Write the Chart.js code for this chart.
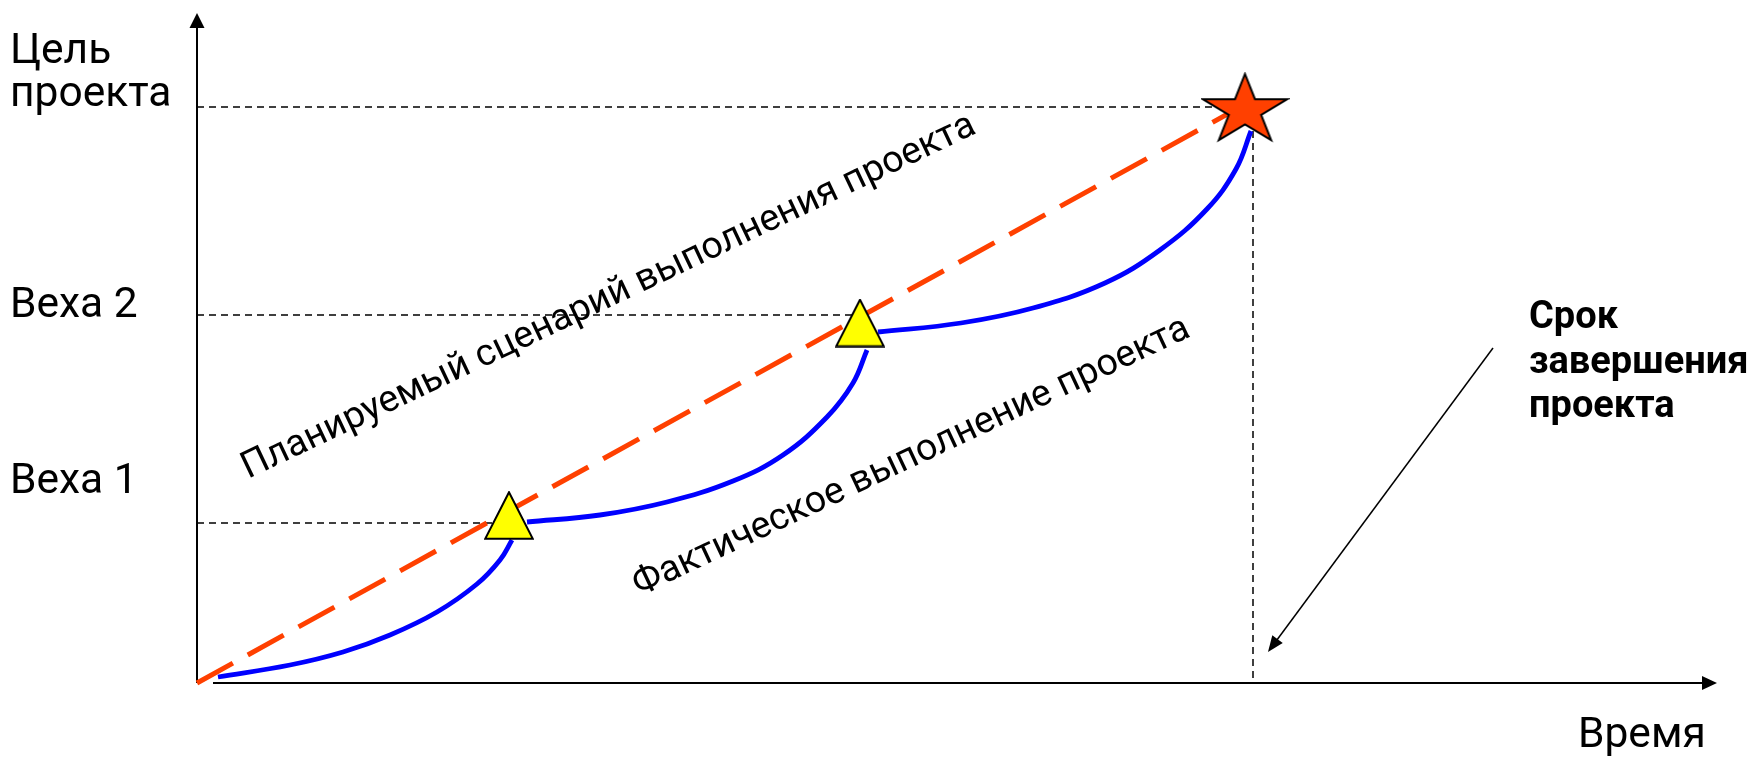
<!DOCTYPE html>
<html>
<head>
<meta charset="utf-8">
<script src="https://cdn.jsdelivr.net/npm/chart.js@4/dist/chart.umd.min.js"></script>
<style>
  html, body { margin: 0; padding: 0; background: #ffffff; }
  #wrap { width: 1749px; height: 757px; }
</style>
</head>
<body>
<div id="wrap"><canvas id="c" width="1749" height="757"></canvas></div>
<script>
// ---- data (arbitrary time / progress units) ----
const plannedX = [0, 106.5];
const plannedY = [0, 58.8];

const actual1X = [2.1, 9.3, 14.6, 19.3, 24.0, 28.0, 30.3, 31.5];
const actual1Y = [0.6, 1.8, 3.1, 4.8, 7.1, 9.9, 12.3, 14.3];
const actual2X = [33.0, 40.3, 47.0, 53.6, 58.6, 63.0, 65.6, 67.0];
const actual2Y = [16.1, 16.8, 18.1, 20.2, 22.8, 26.6, 30.0, 33.3];
const actual3X = [68.1, 76.4, 83.6, 90.8, 96.3, 101.0, 103.9, 105.4];
const actual3Y = [35.1, 36.0, 37.5, 40.0, 43.3, 47.4, 51.4, 55.2];

const milestoneLabels = ['Веха 1', 'Веха 2'];
const milestoneValues = [16.0, 36.8];
const milestoneMarkX = [31.2, 66.3];
const milestoneMarkY = [16.75, 36.0];

const goalLabel = ['Цель', 'проекта'];
const goalValue = 57.6;
const goalMarkX = [104.8];
const goalMarkY = [57.55];
const deadlineX = 105.6;

const xAxisTitle = 'Время';
const deadlineNote = ['Срок', 'завершения', 'проекта'];
const plannedNote = 'Планируемый сценарий выполнения проекта';
const actualNote = 'Фактическое выполнение проекта';

const pts = (xs, ys) => xs.map((x, i) => ({ x: x, y: ys[i] }));

// ---- marker images ----
function triangleImg(w, h, fill) {
  const c = document.createElement('canvas');
  c.width = w; c.height = h;
  const g = c.getContext('2d');
  const b = 1.2;
  g.beginPath();
  g.moveTo(w / 2, b);
  g.lineTo(w - b, h - b);
  g.lineTo(b, h - b);
  g.closePath();
  g.fillStyle = fill; g.fill();
  g.lineWidth = 2; g.strokeStyle = '#000'; g.lineJoin = 'miter'; g.stroke();
  return c;
}
function starImg(rx, ry, fill) {
  const bw = 2;
  const w = Math.ceil(2 * 0.951 * rx + bw * 2), h = Math.ceil(1.809 * ry + bw * 2);
  const c = document.createElement('canvas');
  c.width = w; c.height = h;
  const g = c.getContext('2d');
  const cx = w / 2, cy = bw + ry;
  g.beginPath();
  for (let i = 0; i < 10; i++) {
    const a = -Math.PI / 2 + i * Math.PI / 5;
    const r = (i % 2 === 0) ? 1 : 0.382;
    const px = cx + Math.cos(a) * rx * r, py = cy + Math.sin(a) * ry * r;
    if (i === 0) g.moveTo(px, py); else g.lineTo(px, py);
  }
  g.closePath();
  g.fillStyle = fill; g.fill();
  g.lineWidth = 2; g.strokeStyle = '#000'; g.lineJoin = 'miter'; g.stroke();
  return c;
}
const triImg = triangleImg(50, 49, '#FFFF00');
const stImg = starImg(44.5, 36.5, '#FF4000');

const ORANGE = '#FF4000';
const BLUE = '#0000FF';
const dashStyle = { borderColor: '#000', borderWidth: 1.5, borderDash: [7, 5], pointRadius: 0, fill: false, tension: 0 };
const blueStyle = { borderColor: BLUE, borderWidth: 4.8, pointRadius: 0, tension: 0.4, fill: false, borderCapStyle: 'butt' };

const datasets = [
  { label: 'goal', data: pts(goalMarkX, goalMarkY), showLine: false, pointStyle: stImg, pointRadius: 40, borderWidth: 0 },
  { label: 'milestones', data: pts(milestoneMarkX, milestoneMarkY), showLine: false, pointStyle: triImg, pointRadius: 25, borderWidth: 0 },
  Object.assign({ label: 'actual1', data: pts(actual1X, actual1Y) }, blueStyle),
  Object.assign({ label: 'actual2', data: pts(actual2X, actual2Y) }, blueStyle),
  Object.assign({ label: 'actual3', data: pts(actual3X, actual3Y) }, blueStyle),
  { label: 'planned', data: pts(plannedX, plannedY), borderColor: ORANGE, borderWidth: 5, borderDash: [41, 17], borderCapStyle: 'butt', pointRadius: 0, fill: false, tension: 0 },
  Object.assign({ label: 'goalH', data: [{ x: 0, y: goalValue }, { x: goalMarkX[0], y: goalValue }] }, dashStyle),
  Object.assign({ label: 'deadline', data: [{ x: deadlineX, y: goalValue }, { x: deadlineX, y: 0 }] }, dashStyle),
  Object.assign({ label: 'm1', data: [{ x: 0, y: milestoneValues[0] }, { x: milestoneMarkX[0], y: milestoneValues[0] }] }, dashStyle),
  Object.assign({ label: 'm2', data: [{ x: 0, y: milestoneValues[1] }, { x: milestoneMarkX[1], y: milestoneValues[1] }] }, dashStyle)
];

function arrowHead(g, x1, y1, x2, y2, len, half) {
  const a = Math.atan2(y2 - y1, x2 - x1);
  g.beginPath();
  g.moveTo(x2, y2);
  g.lineTo(x2 - len * Math.cos(a) + half * Math.sin(a), y2 - len * Math.sin(a) - half * Math.cos(a));
  g.lineTo(x2 - len * Math.cos(a) - half * Math.sin(a), y2 - len * Math.sin(a) + half * Math.cos(a));
  g.closePath();
  g.fill();
}

const decor = {
  id: 'decor',
  beforeDatasetsDraw(chart) {
    const g = chart.ctx, xs = chart.scales.x, ys = chart.scales.y;
    const x0 = xs.getPixelForValue(0), y0 = ys.getPixelForValue(0);
    const top = chart.chartArea.top, right = chart.chartArea.right;
    g.save();
    g.strokeStyle = '#000'; g.fillStyle = '#000'; g.lineWidth = 2;
    // y axis
    g.beginPath(); g.moveTo(x0, y0); g.lineTo(x0, top + 12); g.stroke();
    arrowHead(g, x0, y0, x0, top, 15, 7.5);
    // x axis
    const xs0 = xs.getPixelForValue(1.6);
    g.beginPath(); g.moveTo(xs0, y0); g.lineTo(right - 12, y0); g.stroke();
    arrowHead(g, xs0, y0, right, y0, 15, 7);
    g.restore();
  },
  afterDatasetsDraw(chart) {
    const g = chart.ctx, xs = chart.scales.x, ys = chart.scales.y;
    const X = v => xs.getPixelForValue(v), Y = v => ys.getPixelForValue(v);
    g.save();
    g.fillStyle = '#000';
    g.textBaseline = 'alphabetic';
    g.textAlign = 'left';
    // y side labels
    g.font = '42.5px Roboto';
    g.fillText(goalLabel[0], 10, Y(62.0));
    g.fillText(goalLabel[1], 10, Y(57.7));
    g.fillText(milestoneLabels[1], 10, Y(36.6));
    g.fillText(milestoneLabels[0], 10, Y(19.0));
    // x title
    g.fillText(xAxisTitle, X(138.1), Y(-6.4));
    // deadline note
    g.font = 'bold 38px Roboto';
    g.fillText(deadlineNote[0], X(133.2), Y(35.5));
    g.fillText(deadlineNote[1], X(133.2), Y(31.0));
    g.fillText(deadlineNote[2], X(133.2), Y(26.6));
    // arrow pointing to deadline
    g.strokeStyle = '#000'; g.lineWidth = 1.5;
    const ax1 = X(129.6), ay1 = Y(33.5), ax2 = X(107.1), ay2 = Y(3.1);
    const a = Math.atan2(ay2 - ay1, ax2 - ax1);
    g.beginPath(); g.moveTo(ax1, ay1); g.lineTo(ax2 - 10 * Math.cos(a), ay2 - 10 * Math.sin(a)); g.stroke();
    arrowHead(g, ax1, ay1, ax2, ay2, 16, 6.5);
    // rotated notes
    g.font = '37.5px Roboto';
    g.save();
    g.translate(X(5.1), Y(20.4)); g.rotate(-25.4 * Math.PI / 180);
    g.fillText(plannedNote, 0, 0);
    g.restore();
    g.save();
    g.translate(X(44.2), Y(8.7)); g.rotate(-25.2 * Math.PI / 180);
    g.fillText(actualNote, 0, 0);
    g.restore();
    g.restore();
  }
};

const bgPlugin = {
  id: 'bg',
  beforeDraw(chart) {
    const g = chart.ctx;
    g.save(); g.fillStyle = '#fff'; g.fillRect(0, 0, chart.width, chart.height); g.restore();
  }
};

new Chart(document.getElementById('c'), {
  type: 'line',
  data: { datasets: datasets },
  options: {
    responsive: false,
    devicePixelRatio: 1,
    animation: false,
    clip: false,
    layout: { autoPadding: false, padding: { left: 197, right: 32, top: 13, bottom: 74 } },
    plugins: { legend: { display: false }, tooltip: { enabled: false } },
    scales: {
      x: { type: 'linear', min: 0, max: 152, display: false },
      y: { type: 'linear', min: 0, max: 67, display: false }
    }
  },
  plugins: [bgPlugin, decor]
});
</script>
</body>
</html>
